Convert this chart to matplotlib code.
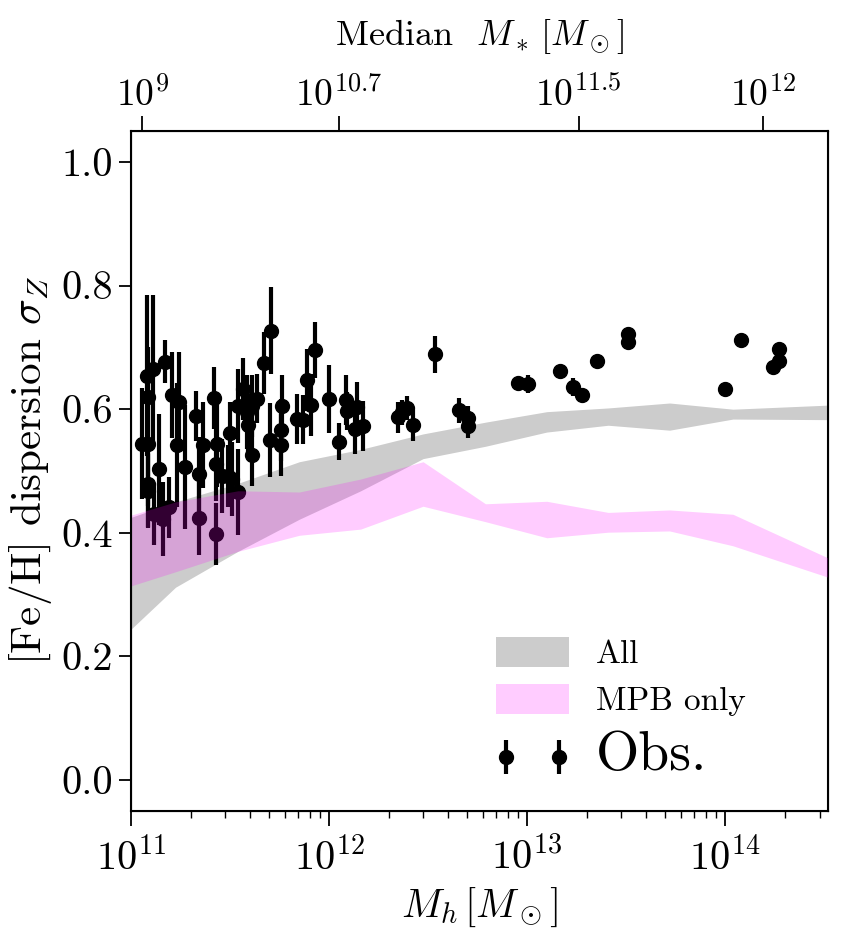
import numpy as np
import matplotlib
matplotlib.use("Agg")
import matplotlib.pyplot as plt
from matplotlib.ticker import FixedLocator, FuncFormatter, LogLocator, NullLocator

plt.rcParams['font.family'] = 'cmr10'
plt.rcParams['mathtext.fontset'] = 'cm'
plt.rcParams['axes.formatter.use_mathtext'] = True
plt.rcParams['axes.unicode_minus'] = False

# ---------------- data ----------------
# model bands: log10 halo mass vertices
band_logmh = [10.91, 11.225, 11.54, 11.85, 12.16, 12.475, 12.79, 13.10, 13.41, 13.72, 14.04, 14.55]
all_lo =  [0.217, 0.312, 0.370, 0.422, 0.468, 0.520, 0.540, 0.563, 0.574, 0.566, 0.584, 0.583]
all_hi =  [0.415, 0.450, 0.480, 0.515, 0.535, 0.560, 0.579, 0.596, 0.602, 0.610, 0.600, 0.607]
mpb_lo =  [0.305, 0.337, 0.370, 0.396, 0.406, 0.443, 0.418, 0.392, 0.401, 0.403, 0.379, 0.325]
mpb_hi =  [0.420, 0.450, 0.468, 0.466, 0.487, 0.515, 0.447, 0.451, 0.433, 0.437, 0.430, 0.355]

# observations: log10 halo mass, dispersion, error
obs_logmh = [11.081, 11.111, 11.086, 11.056, 11.086, 11.086, 11.086, 11.116, 11.141, 11.162,
             11.192, 11.172, 11.207, 11.242, 11.232, 11.273, 11.328, 11.343, 11.343, 11.364,
             11.419, 11.434, 11.429, 11.429, 11.460, 11.500, 11.490, 11.540, 11.566, 11.586,
             11.611, 11.611, 11.540, 11.510, 11.591, 11.636, 11.707, 11.672, 11.929, 11.889,
             11.909, 12.000, 12.086, 12.091, 12.141, 12.131, 12.172, 12.051, 11.763, 11.758,
             11.758, 11.702, 11.838, 11.869, 12.535, 12.348, 12.394, 12.369, 12.424, 12.657,
             12.702, 12.702, 12.955, 13.005, 13.167, 13.232, 13.278, 13.354, 13.510, 13.510,
             14.000, 14.081, 14.242, 14.273, 14.273]
obs_sigma = [0.654, 0.665, 0.620, 0.544, 0.544, 0.479, 0.468, 0.431, 0.503, 0.422,
             0.441, 0.677, 0.623, 0.612, 0.542, 0.506, 0.589, 0.495, 0.424, 0.542,
             0.618, 0.544, 0.511, 0.398, 0.492, 0.562, 0.492, 0.605, 0.633, 0.595,
             0.605, 0.526, 0.466, 0.487, 0.574, 0.617, 0.727, 0.675, 0.696, 0.647,
             0.607, 0.617, 0.615, 0.597, 0.604, 0.568, 0.573, 0.547, 0.605, 0.566,
             0.542, 0.550, 0.584, 0.583, 0.689, 0.587, 0.602, 0.595, 0.574, 0.598,
             0.585, 0.573, 0.642, 0.641, 0.661, 0.636, 0.623, 0.678, 0.722, 0.709,
             0.633, 0.712, 0.668, 0.697, 0.678]
obs_err = [0.13, 0.12, 0.08, 0.09, 0.10, 0.07, 0.06, 0.05, 0.09, 0.06,
           0.05, 0.035, 0.07, 0.08, 0.10, 0.10, 0.04, 0.06, 0.06, 0.07,
           0.05, 0.07, 0.06, 0.05, 0.06, 0.05, 0.05, 0.06, 0.05, 0.06,
           0.05, 0.05, 0.07, 0.06, 0.05, 0.04, 0.07, 0.05, 0.045, 0.05,
           0.05, 0.055, 0.04, 0.03, 0.04, 0.04, 0.04, 0.03, 0.05, 0.05,
           0.05, 0.06, 0.04, 0.04, 0.03, 0.025, 0.02, 0.02, 0.025, 0.02,
           0.02, 0.02, 0.0, 0.015, 0.0, 0.015, 0.0, 0.0, 0.0, 0.0,
           0.0, 0.0, 0.0, 0.0, 0.0]

# top axis: stellar mass labels and their halo-mass positions
top_logmh = [11.056, 12.05, 13.26, 14.19]
top_labels = [r'$10^{9}$', r'$10^{10.7}$', r'$10^{11.5}$', r'$10^{12}$']

# ---------------- plot ----------------
fig = plt.figure(figsize=(8.59, 9.48), dpi=100)
ax = fig.add_axes([131/859, 1-811/948, (828-131)/859, (811-131)/948])

bx = 10**np.array(band_logmh)
ax.fill_between(bx, all_lo, all_hi, color='k', alpha=0.2, lw=0, zorder=1, label='All')
ox = 10**np.array(obs_logmh)
ax.errorbar(ox, obs_sigma, yerr=obs_err, fmt='o', color='k', ms=10, elinewidth=3,
            capsize=0, zorder=2, label='Obs.')
ax.fill_between(bx, mpb_lo, mpb_hi, color='magenta', alpha=0.2, lw=0, zorder=3,
                label='MPB only')

ax.set_xscale('log')
ax.set_xlim(1e11, 10**14.52)
ax.set_ylim(-0.05, 1.05)
ax.set_yticks([0.0, 0.2, 0.4, 0.6, 0.8, 1.0])
ax.yaxis.set_major_formatter(FuncFormatter(lambda v, p: f'{v:.1f}'))
ax.xaxis.set_major_locator(LogLocator(base=10, numticks=10))
ax.xaxis.set_minor_locator(LogLocator(base=10, subs=np.arange(2, 10), numticks=20))

ax.tick_params(axis='y', which='major', direction='out', length=9, width=1.3,
               labelsize=29, pad=4)
ax.tick_params(axis='x', which='major', direction='out', length=11, width=1.3,
               labelsize=29, pad=8)
ax.tick_params(axis='x', which='minor', direction='out', length=5, width=1.0)
for s in ax.spines.values():
    s.set_linewidth(1.5)

ax.set_xlabel(r'$M_h\,[M_\odot]$', fontsize=29, labelpad=5)
ax.set_ylabel(r'[Fe/H] dispersion $\sigma_Z$', fontsize=31, labelpad=5)

ax2 = ax.twiny()
ax2.set_xscale('log')
ax2.set_xlim(ax.get_xlim())
ax2.xaxis.set_major_locator(FixedLocator(10**np.array(top_logmh)))
ax2.xaxis.set_minor_locator(NullLocator())
ax2.set_xticklabels(top_labels)
ax2.tick_params(axis='x', which='major', direction='out', length=11, width=1.3,
                labelsize=27, pad=2)
ax2.set_xlabel(r'Median  $M_*\,[M_\odot]$', fontsize=26, labelpad=22)

h, l = ax.get_legend_handles_labels()
order = [l.index('All'), l.index('MPB only'), l.index('Obs.')]
leg = ax.legend([h[i] for i in order], [l[i] for i in order], loc='lower left',
                bbox_to_anchor=(0.48, 0.0), frameon=False, fontsize=24,
                handlelength=2.2, handleheight=1.0, labelspacing=0.45, numpoints=2)
leg.get_texts()[2].set_fontsize(40)

fig.savefig('out.png', dpi=100)
